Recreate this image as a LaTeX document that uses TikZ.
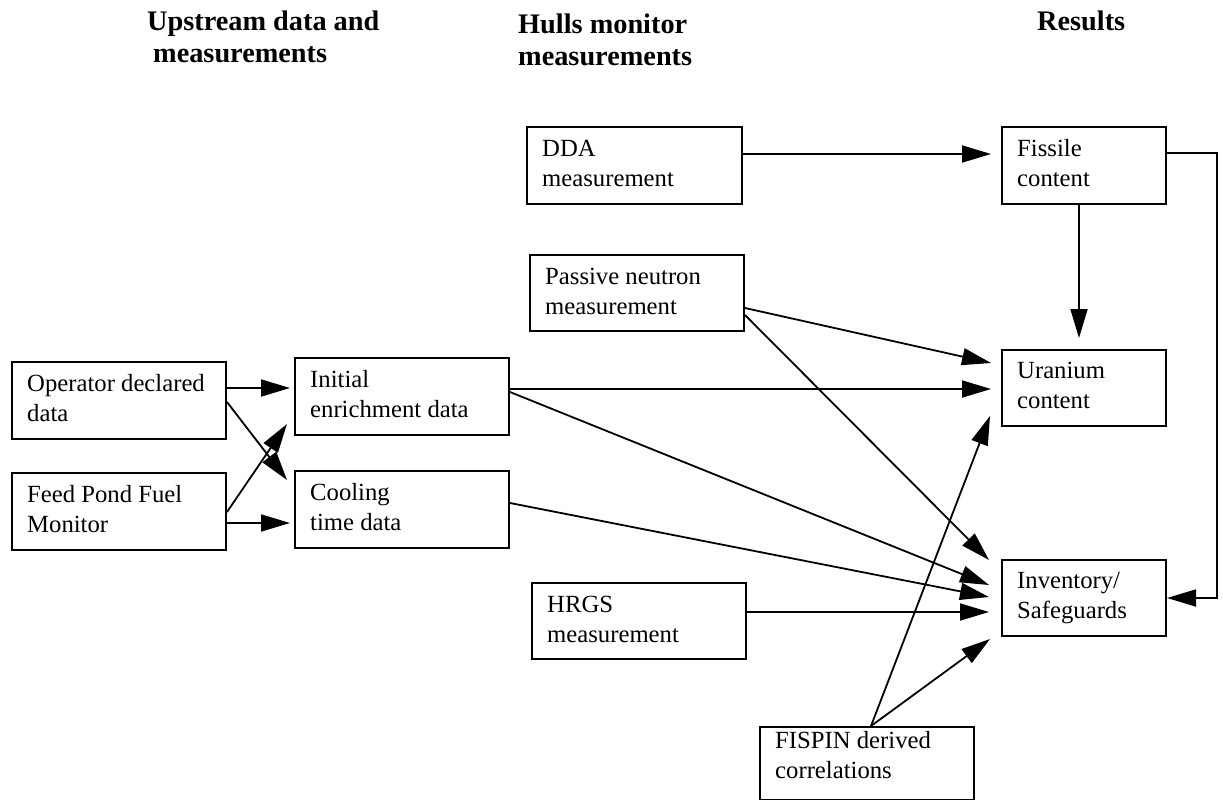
\documentclass[tikz,border=0pt]{standalone}
\usepackage{fontspec}
\setmainfont{Liberation Serif}
\usetikzlibrary{arrows.meta,calc}
\begin{document}
\begin{tikzpicture}[x=1pt,y=-1pt,
  box/.style={draw, line width=2pt, rectangle, anchor=north west, inner sep=0pt},
  txt/.style={anchor=base west, inner sep=0pt, font=\fontsize{24.7}{30}\selectfont},
  head/.style={anchor=base west, inner sep=0pt, font=\fontsize{28.3}{32}\selectfont\bfseries},
  arr/.style={line width=1.8pt, -{Triangle[length=29pt,width=17pt]}}]
\useasboundingbox (0,0) rectangle (1223,800);
% headings
\node[head] (h1) at (147,31) {\parbox[t]{300pt}{Upstream data and\\\hspace*{6pt}measurements}};
\node[head] (h2) at (518,34) {\parbox[t]{250pt}{Hulls monitor\\measurements}};
\node[head] (h3) at (1037,31) {Results};
% boxes
\node[box, minimum width=215pt, minimum height=77pt] (dda) at (526,126) {};
\node[box, minimum width=164pt, minimum height=77pt] (fis) at (1001,126) {};
\node[box, minimum width=214pt, minimum height=76pt] (pas) at (529,254) {};
\node[box, minimum width=164pt, minimum height=76pt] (uran) at (1001,349) {};
\node[box, minimum width=214pt, minimum height=77pt] (op) at (11,361) {};
\node[box, minimum width=214pt, minimum height=77pt] (ini) at (294,357) {};
\node[box, minimum width=214pt, minimum height=77pt] (feed) at (11,472) {};
\node[box, minimum width=214pt, minimum height=77pt] (cool) at (294,470) {};
\node[box, minimum width=214pt, minimum height=76pt] (hrgs) at (531,582) {};
\node[box, minimum width=164pt, minimum height=76pt] (inv) at (1001,559) {};
\node[box, minimum width=214pt, minimum height=73pt] (fisp) at (759,726) {};
% texts
\node[txt] (ddat) at ([xshift=16pt,yshift=-30pt]dda.north west) {\parbox[t]{190pt}{DDA\\measurement}};
\node[txt] (fist) at ([xshift=16pt,yshift=-30pt]fis.north west) {\parbox[t]{140pt}{Fissile\\content}};
\node[txt] (past) at ([xshift=16pt,yshift=-30pt]pas.north west) {\parbox[t]{190pt}{Passive neutron\\measurement}};
\node[txt] (urant) at ([xshift=16pt,yshift=-29pt]uran.north west) {\parbox[t]{140pt}{Uranium\\content}};
\node[txt] (opt) at ([xshift=16pt,yshift=-30pt]op.north west) {\parbox[t]{190pt}{Operator declared\\data}};
\node[txt] (init) at ([xshift=16pt,yshift=-30pt]ini.north west) {\parbox[t]{190pt}{Initial\\enrichment data}};
\node[txt] (feedt) at ([xshift=16pt,yshift=-30pt]feed.north west) {\parbox[t]{190pt}{Feed Pond Fuel\\Monitor}};
\node[txt] (coolt) at ([xshift=16pt,yshift=-30pt]cool.north west) {\parbox[t]{190pt}{Cooling\\time data}};
\node[txt] (hrgst) at ([xshift=16pt,yshift=-30pt]hrgs.north west) {\parbox[t]{190pt}{HRGS\\measurement}};
\node[txt] (invt) at ([xshift=16pt,yshift=-29pt]inv.north west) {\parbox[t]{140pt}{Inventory/\\Safeguards}};
\node[txt] (fispt) at ([xshift=16pt,yshift=-22pt]fisp.north west) {\parbox[t]{190pt}{FISPIN derived\\correlations}};
% connectors
\draw[arr] ([yshift=-28pt]dda.north east) -- ([xshift=-10pt,yshift=-28pt]fis.north west);
\coordinate (fbtop) at ([xshift=50pt,yshift=-27pt]fis.north east);
\coordinate (fbin) at ([yshift=-39pt]inv.north east);
\draw[arr] ([yshift=-27pt]fis.north east) -- (fbtop) |- (fbin);
\draw[arr] ([xshift=-5pt]fis.south) -- ([xshift=-5pt,yshift=11pt]uran.north);
\draw[arr] ([yshift=-54pt]pas.north east) -- ([xshift=-10pt,yshift=-14pt]uran.north west);
\draw[arr] ([yshift=-61pt]pas.north east) -- ([xshift=-12pt,yshift=-1pt]inv.north west);
\draw[arr] ([yshift=-32pt]ini.north east) -- ([xshift=-10pt,yshift=-40pt]uran.north west);
\draw[arr] ([yshift=-35pt]ini.north east) -- ([xshift=-12pt,yshift=-26pt]inv.north west);
\draw[arr] ([yshift=-33pt]cool.north east) -- ([xshift=-12pt,yshift=-38pt]inv.north west);
\draw[arr] ([yshift=-30pt]hrgs.north east) -- ([xshift=-12pt,yshift=-53pt]inv.north west);
\draw[arr] ([xshift=4pt]fisp.north) -- ([xshift=-11pt,yshift=11pt]uran.south west);
\draw[arr] ([xshift=4pt]fisp.north) -- ([xshift=-11pt,yshift=-2pt]inv.south west);
\draw[arr] ([yshift=-27pt]op.north east) -- ([xshift=-4pt,yshift=-31pt]ini.north west);
\draw[arr] ([yshift=-41pt]op.north east) -- ([xshift=-7pt,yshift=-10pt]cool.north west);
\draw[arr] ([yshift=-40pt]feed.north east) -- ([xshift=-7pt,yshift=12pt]ini.south west);
\draw[arr] ([yshift=-51pt]feed.north east) -- ([xshift=-4pt,yshift=-53pt]cool.north west);
\end{tikzpicture}
\end{document}
